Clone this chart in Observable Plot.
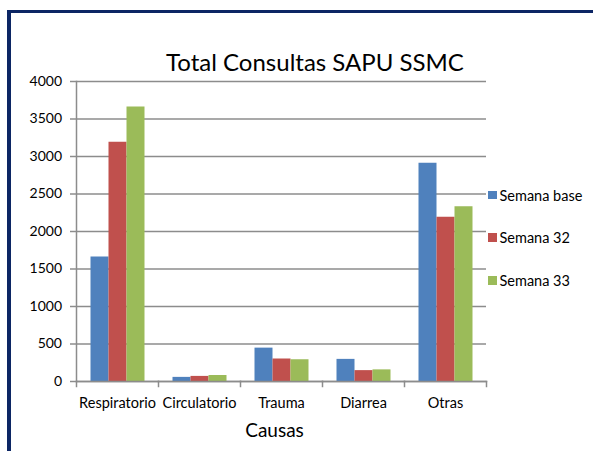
<!DOCTYPE html>
<html>
<head>
<meta charset="utf-8">
<script src="https://cdn.jsdelivr.net/npm/d3@7"></script>
<script src="https://cdn.jsdelivr.net/npm/@observablehq/plot@0.6"></script>
<style>
  html, body { margin: 0; padding: 0; background: #fff; }
  #wrap { position: relative; width: 593px; height: 451px; overflow: hidden; font-family: Lato, sans-serif; color: #000; }
  #border { position: absolute; left: 7px; top: 10px; width: 700px; height: 600px; box-sizing: border-box;
            border-top: 3px solid #0c2664; border-left: 4px solid #0c2664; pointer-events: none; }
  #title { height: 70px; box-sizing: border-box; padding-top: 50px; padding-left: 37px; width: 593px;
           font-size: 24px; line-height: 24px; text-align: center; white-space: nowrap; }
  #chart svg { display: block; }
  #xtitle { width: 549px; text-align: center; font-size: 19px; line-height: 19px; padding-top: 5px; }
  .lg { position: absolute; left: 488px; height: 18px; display: flex; align-items: center; font-size: 14.5px; white-space: nowrap; }
  .lg span.sw { display: inline-block; width: 8.5px; height: 8.5px; margin-right: 3px; }
</style>
</head>
<body>
<div id="wrap">
  <div id="border"></div>
  <div id="title">Total Consultas SAPU SSMC</div>
  <div id="chart"></div>
  <div id="xtitle">Causas</div>
</div>
<script>
const categories = ["Respiratorio", "Circulatorio", "Trauma", "Diarrea", "Otras"];
const series = ["Semana base", "Semana 32", "Semana 33"];
const semanaBase = [1660, 55, 445, 295, 2910];
const semana32 = [3190, 68, 300, 145, 2190];
const semana33 = [3660, 80, 290, 155, 2330];
const yTicks = [0, 500, 1000, 1500, 2000, 2500, 3000, 3500, 4000];
const colors = ["#4f81bd", "#c0504d", "#9bbb59"];

const seriesValues = [semanaBase, semana32, semana33];
const data = categories.flatMap((c, i) =>
  series.map((s, j) => ({causa: c, semana: s, valor: seriesValues[j][i]})));

const gridColor = "#8c8c8c";

const chart = Plot.plot({
  width: 593,
  height: 345,
  marginLeft: 75.5,
  marginRight: 106,
  marginTop: 11,
  marginBottom: 34,
  style: {fontFamily: "Lato, sans-serif", fontSize: "14px", color: "#000", background: "transparent", overflow: "visible"},
  fx: {domain: categories, padding: 0, label: null, axis: null},
  x: {domain: series, paddingInner: 0, paddingOuter: 0.75, axis: null},
  y: {domain: [0, 4000], axis: null},
  color: {domain: series, range: colors},
  marks: [
    Plot.gridY(yTicks, {stroke: gridColor, strokeOpacity: 1, strokeWidth: 1.5}),
    Plot.barY(data, {fx: "causa", x: "semana", y: "valor", fill: "semana"}),
    Plot.frame({anchor: "left", facetAnchor: "left", stroke: gridColor, strokeWidth: 1.5}),
    Plot.frame({anchor: "bottom", stroke: gridColor, strokeWidth: 1.5}),
    Plot.frame({anchor: "left", insetTop: 300, insetBottom: -5, stroke: gridColor, strokeWidth: 1.5}),
    Plot.frame({anchor: "right", facetAnchor: "right", insetTop: 300, insetBottom: -5, stroke: gridColor, strokeWidth: 1.5}),
    Plot.axisY(yTicks, {tickSize: 6, tickPadding: 8.5, stroke: gridColor, strokeWidth: 1.5, fill: "#000",
      fontSize: 14, label: null, tickFormat: d3.format("d")}),
    Plot.axisFx({anchor: "bottom", tickSize: 0, tickPadding: 16, label: null, fill: "#000", fontSize: 14.5})
  ]
});
document.getElementById("chart").appendChild(chart);

const wrap = document.getElementById("wrap");
series.forEach((s, i) => {
  const item = document.createElement("div");
  item.className = "lg";
  item.style.top = (186 + i * 42.7) + "px";
  const sw = document.createElement("span");
  sw.className = "sw";
  sw.style.background = colors[i];
  item.appendChild(sw);
  item.appendChild(document.createTextNode(s));
  wrap.appendChild(item);
});
</script>
</body>
</html>
